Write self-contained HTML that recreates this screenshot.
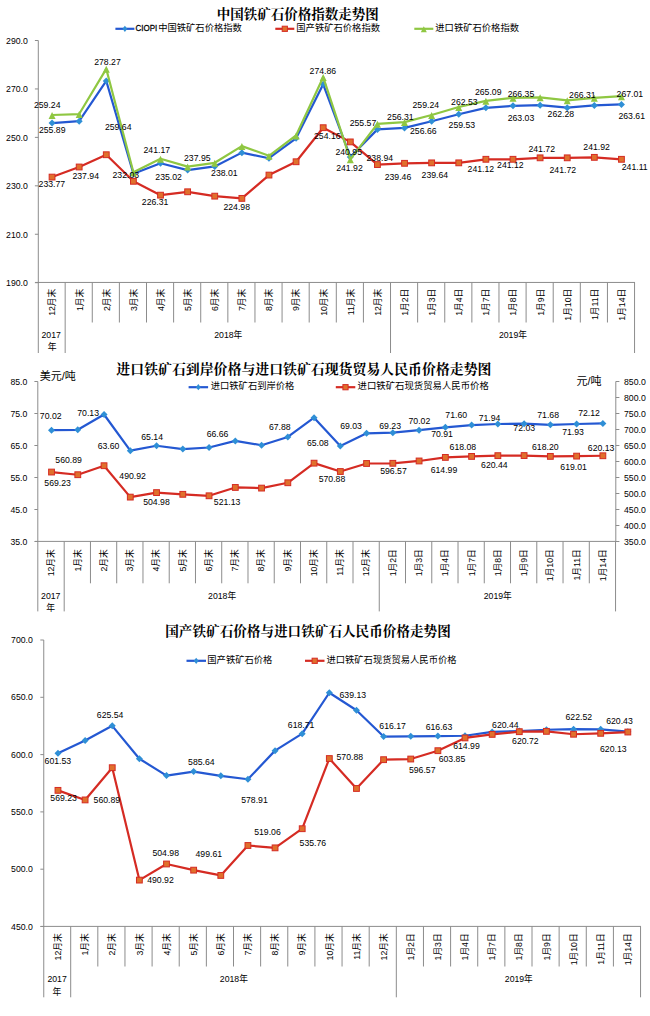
<!DOCTYPE html>
<html lang="zh"><head><meta charset="utf-8"><title>铁矿石价格指数走势图</title>
<style>html,body{margin:0;padding:0;background:#fff}svg{display:block;font-family:"Liberation Sans","Noto Sans CJK SC",sans-serif}.t{font-family:"Liberation Serif","Noto Serif CJK SC",serif;font-weight:bold}</style>
</head><body>
<svg width="650" height="1016" viewBox="0 0 650 1016">
<rect width="650" height="1016" fill="#fff"/>
<text class="t" x="297.7" y="18.6" font-size="13.5" text-anchor="middle">中国铁矿石价格指数走势图</text>
<path d="M38.3 40.5L38.3 353" stroke="#8c8c8c" stroke-width="1"/>
<path d="M34.9 282.7L38.3 282.7" stroke="#8c8c8c" stroke-width="1"/>
<text x="27.8" y="286" font-size="8.7" text-anchor="end">190.0</text>
<path d="M34.9 234.26L38.3 234.26" stroke="#8c8c8c" stroke-width="1"/>
<text x="27.8" y="238" font-size="8.7" text-anchor="end">210.0</text>
<path d="M34.9 185.82L38.3 185.82" stroke="#8c8c8c" stroke-width="1"/>
<text x="27.8" y="189" font-size="8.7" text-anchor="end">230.0</text>
<path d="M34.9 137.38L38.3 137.38" stroke="#8c8c8c" stroke-width="1"/>
<text x="27.8" y="141" font-size="8.7" text-anchor="end">250.0</text>
<path d="M34.9 88.94L38.3 88.94" stroke="#8c8c8c" stroke-width="1"/>
<text x="27.8" y="92" font-size="8.7" text-anchor="end">270.0</text>
<path d="M34.9 40.5L38.3 40.5" stroke="#8c8c8c" stroke-width="1"/>
<text x="27.8" y="44" font-size="8.7" text-anchor="end">290.0</text>
<path d="M35.1 282.45L635 282.45" stroke="#8c8c8c" stroke-width="1"/><path d="M65.16 282.45L65.16 353" stroke="#8c8c8c" stroke-width="1"/><path d="M92.28 282.45L92.28 322.5" stroke="#8c8c8c" stroke-width="1"/><path d="M119.39 282.45L119.39 322.5" stroke="#8c8c8c" stroke-width="1"/><path d="M146.5 282.45L146.5 322.5" stroke="#8c8c8c" stroke-width="1"/><path d="M173.62 282.45L173.62 322.5" stroke="#8c8c8c" stroke-width="1"/><path d="M200.73 282.45L200.73 322.5" stroke="#8c8c8c" stroke-width="1"/><path d="M227.85 282.45L227.85 322.5" stroke="#8c8c8c" stroke-width="1"/><path d="M254.96 282.45L254.96 322.5" stroke="#8c8c8c" stroke-width="1"/><path d="M282.07 282.45L282.07 322.5" stroke="#8c8c8c" stroke-width="1"/><path d="M309.19 282.45L309.19 322.5" stroke="#8c8c8c" stroke-width="1"/><path d="M336.3 282.45L336.3 322.5" stroke="#8c8c8c" stroke-width="1"/><path d="M363.41 282.45L363.41 322.5" stroke="#8c8c8c" stroke-width="1"/><path d="M390.53 282.45L390.53 353" stroke="#8c8c8c" stroke-width="1"/><path d="M417.64 282.45L417.64 322.5" stroke="#8c8c8c" stroke-width="1"/><path d="M444.75 282.45L444.75 322.5" stroke="#8c8c8c" stroke-width="1"/><path d="M471.87 282.45L471.87 322.5" stroke="#8c8c8c" stroke-width="1"/><path d="M498.98 282.45L498.98 322.5" stroke="#8c8c8c" stroke-width="1"/><path d="M526.1 282.45L526.1 322.5" stroke="#8c8c8c" stroke-width="1"/><path d="M553.21 282.45L553.21 322.5" stroke="#8c8c8c" stroke-width="1"/><path d="M580.32 282.45L580.32 322.5" stroke="#8c8c8c" stroke-width="1"/><path d="M607.44 282.45L607.44 322.5" stroke="#8c8c8c" stroke-width="1"/><path d="M634.55 282.45L634.55 353" stroke="#8c8c8c" stroke-width="1"/>
<text transform="translate(55.46 288.2) rotate(-90)" x="-0.6" y="0" font-size="8.7" text-anchor="end">12月末</text>
<text transform="translate(82.57 288.2) rotate(-90)" x="-0.6" y="0" font-size="8.7" text-anchor="end">1月末</text>
<text transform="translate(109.68 288.2) rotate(-90)" x="-0.6" y="0" font-size="8.7" text-anchor="end">2月末</text>
<text transform="translate(136.8 288.2) rotate(-90)" x="-0.6" y="0" font-size="8.7" text-anchor="end">3月末</text>
<text transform="translate(163.91 288.2) rotate(-90)" x="-0.6" y="0" font-size="8.7" text-anchor="end">4月末</text>
<text transform="translate(191.03 288.2) rotate(-90)" x="-0.6" y="0" font-size="8.7" text-anchor="end">5月末</text>
<text transform="translate(218.14 288.2) rotate(-90)" x="-0.6" y="0" font-size="8.7" text-anchor="end">6月末</text>
<text transform="translate(245.25 288.2) rotate(-90)" x="-0.6" y="0" font-size="8.7" text-anchor="end">7月末</text>
<text transform="translate(272.37 288.2) rotate(-90)" x="-0.6" y="0" font-size="8.7" text-anchor="end">8月末</text>
<text transform="translate(299.48 288.2) rotate(-90)" x="-0.6" y="0" font-size="8.7" text-anchor="end">9月末</text>
<text transform="translate(326.59 288.2) rotate(-90)" x="-0.6" y="0" font-size="8.7" text-anchor="end">10月末</text>
<text transform="translate(353.71 288.2) rotate(-90)" x="-0.6" y="0" font-size="8.7" text-anchor="end">11月末</text>
<text transform="translate(380.82 288.2) rotate(-90)" x="-0.6" y="0" font-size="8.7" text-anchor="end">12月末</text>
<text transform="translate(407.93 288.2) rotate(-90)" x="-0.6" y="0" font-size="8.7" text-anchor="end">1月2日</text>
<text transform="translate(435.05 288.2) rotate(-90)" x="-0.6" y="0" font-size="8.7" text-anchor="end">1月3日</text>
<text transform="translate(462.16 288.2) rotate(-90)" x="-0.6" y="0" font-size="8.7" text-anchor="end">1月4日</text>
<text transform="translate(489.27 288.2) rotate(-90)" x="-0.6" y="0" font-size="8.7" text-anchor="end">1月7日</text>
<text transform="translate(516.39 288.2) rotate(-90)" x="-0.6" y="0" font-size="8.7" text-anchor="end">1月8日</text>
<text transform="translate(543.5 288.2) rotate(-90)" x="-0.6" y="0" font-size="8.7" text-anchor="end">1月9日</text>
<text transform="translate(570.62 288.2) rotate(-90)" x="-0.6" y="0" font-size="8.7" text-anchor="end">1月10日</text>
<text transform="translate(597.73 288.2) rotate(-90)" x="-0.6" y="0" font-size="8.7" text-anchor="end">1月11日</text>
<text transform="translate(624.84 288.2) rotate(-90)" x="-0.6" y="0" font-size="8.7" text-anchor="end">1月14日</text>
<text x="51.16" y="337.6" font-size="8.7" text-anchor="middle">2017</text>
<text x="52.06" y="349.7" font-size="8.8" text-anchor="middle">年</text>
<text x="214.22" y="337.6" font-size="8.7">2018年</text>
<text x="498.91" y="337.6" font-size="8.7">2019年</text>
<polyline points="52.06,123.11 79.17,121.15 106.28,80.95 133.4,173.66 160.51,163.3 187.62,170.08 214.74,166.42 241.85,152.64 268.97,158.21 296.08,138.35 323.19,84.34 350.31,156.95 377.42,129.39 404.53,127.93 431.65,121.25 458.76,114.3 485.88,107.83 512.99,105.82 540.1,105.17 567.22,107.64 594.33,105.41 621.44,104.42" fill="none" stroke="#2458d2" stroke-width="2.2" stroke-linejoin="round" stroke-linecap="round"/><path d="M52.06 119.61l3.5 3.5l-3.5 3.5l-3.5 -3.5z" fill="#2f8fd6"/><path d="M79.17 117.65l3.5 3.5l-3.5 3.5l-3.5 -3.5z" fill="#2f8fd6"/><path d="M106.28 77.45l3.5 3.5l-3.5 3.5l-3.5 -3.5z" fill="#2f8fd6"/><path d="M133.4 170.16l3.5 3.5l-3.5 3.5l-3.5 -3.5z" fill="#2f8fd6"/><path d="M160.51 159.8l3.5 3.5l-3.5 3.5l-3.5 -3.5z" fill="#2f8fd6"/><path d="M187.62 166.58l3.5 3.5l-3.5 3.5l-3.5 -3.5z" fill="#2f8fd6"/><path d="M214.74 162.92l3.5 3.5l-3.5 3.5l-3.5 -3.5z" fill="#2f8fd6"/><path d="M241.85 149.14l3.5 3.5l-3.5 3.5l-3.5 -3.5z" fill="#2f8fd6"/><path d="M268.97 154.71l3.5 3.5l-3.5 3.5l-3.5 -3.5z" fill="#2f8fd6"/><path d="M296.08 134.85l3.5 3.5l-3.5 3.5l-3.5 -3.5z" fill="#2f8fd6"/><path d="M323.19 80.84l3.5 3.5l-3.5 3.5l-3.5 -3.5z" fill="#2f8fd6"/><path d="M350.31 153.45l3.5 3.5l-3.5 3.5l-3.5 -3.5z" fill="#2f8fd6"/><path d="M377.42 125.89l3.5 3.5l-3.5 3.5l-3.5 -3.5z" fill="#2f8fd6"/><path d="M404.53 124.43l3.5 3.5l-3.5 3.5l-3.5 -3.5z" fill="#2f8fd6"/><path d="M431.65 117.75l3.5 3.5l-3.5 3.5l-3.5 -3.5z" fill="#2f8fd6"/><path d="M458.76 110.8l3.5 3.5l-3.5 3.5l-3.5 -3.5z" fill="#2f8fd6"/><path d="M485.88 104.33l3.5 3.5l-3.5 3.5l-3.5 -3.5z" fill="#2f8fd6"/><path d="M512.99 102.32l3.5 3.5l-3.5 3.5l-3.5 -3.5z" fill="#2f8fd6"/><path d="M540.1 101.67l3.5 3.5l-3.5 3.5l-3.5 -3.5z" fill="#2f8fd6"/><path d="M567.22 104.14l3.5 3.5l-3.5 3.5l-3.5 -3.5z" fill="#2f8fd6"/><path d="M594.33 101.91l3.5 3.5l-3.5 3.5l-3.5 -3.5z" fill="#2f8fd6"/><path d="M621.44 100.92l3.5 3.5l-3.5 3.5l-3.5 -3.5z" fill="#2f8fd6"/>
<polyline points="52.06,177.09 79.17,166.99 106.28,154.73 133.4,181.3 160.51,195.16 187.62,191.79 214.74,196.15 241.85,198.38 268.97,175.08 296.08,161.76 323.19,127.7 350.31,141.9 377.42,164.57 404.53,163.31 431.65,162.87 458.76,162.85 485.88,159.29 512.99,159.29 540.1,157.83 567.22,157.83 594.33,157.35 621.44,159.31" fill="none" stroke="#d52b23" stroke-width="2.2" stroke-linejoin="round" stroke-linecap="round"/><rect x="49.16" y="174.19" width="5.8" height="5.8" fill="#e0702c" stroke="#d52b23" stroke-width="1"/><rect x="76.27" y="164.09" width="5.8" height="5.8" fill="#e0702c" stroke="#d52b23" stroke-width="1"/><rect x="103.38" y="151.83" width="5.8" height="5.8" fill="#e0702c" stroke="#d52b23" stroke-width="1"/><rect x="130.5" y="178.4" width="5.8" height="5.8" fill="#e0702c" stroke="#d52b23" stroke-width="1"/><rect x="157.61" y="192.26" width="5.8" height="5.8" fill="#e0702c" stroke="#d52b23" stroke-width="1"/><rect x="184.72" y="188.89" width="5.8" height="5.8" fill="#e0702c" stroke="#d52b23" stroke-width="1"/><rect x="211.84" y="193.25" width="5.8" height="5.8" fill="#e0702c" stroke="#d52b23" stroke-width="1"/><rect x="238.95" y="195.48" width="5.8" height="5.8" fill="#e0702c" stroke="#d52b23" stroke-width="1"/><rect x="266.07" y="172.18" width="5.8" height="5.8" fill="#e0702c" stroke="#d52b23" stroke-width="1"/><rect x="293.18" y="158.86" width="5.8" height="5.8" fill="#e0702c" stroke="#d52b23" stroke-width="1"/><rect x="320.29" y="124.8" width="5.8" height="5.8" fill="#e0702c" stroke="#d52b23" stroke-width="1"/><rect x="347.41" y="139" width="5.8" height="5.8" fill="#e0702c" stroke="#d52b23" stroke-width="1"/><rect x="374.52" y="161.67" width="5.8" height="5.8" fill="#e0702c" stroke="#d52b23" stroke-width="1"/><rect x="401.63" y="160.41" width="5.8" height="5.8" fill="#e0702c" stroke="#d52b23" stroke-width="1"/><rect x="428.75" y="159.97" width="5.8" height="5.8" fill="#e0702c" stroke="#d52b23" stroke-width="1"/><rect x="455.86" y="159.95" width="5.8" height="5.8" fill="#e0702c" stroke="#d52b23" stroke-width="1"/><rect x="482.98" y="156.39" width="5.8" height="5.8" fill="#e0702c" stroke="#d52b23" stroke-width="1"/><rect x="510.09" y="156.39" width="5.8" height="5.8" fill="#e0702c" stroke="#d52b23" stroke-width="1"/><rect x="537.2" y="154.93" width="5.8" height="5.8" fill="#e0702c" stroke="#d52b23" stroke-width="1"/><rect x="564.32" y="154.93" width="5.8" height="5.8" fill="#e0702c" stroke="#d52b23" stroke-width="1"/><rect x="591.43" y="154.45" width="5.8" height="5.8" fill="#e0702c" stroke="#d52b23" stroke-width="1"/><rect x="618.54" y="156.41" width="5.8" height="5.8" fill="#e0702c" stroke="#d52b23" stroke-width="1"/>
<polyline points="52.06,115 79.17,114.03 106.28,68.91 133.4,172.26 160.51,158.77 187.62,166.57 214.74,162.81 241.85,146.1 268.97,155.79 296.08,135.44 323.19,77.17 350.31,159.3 377.42,123.89 404.53,122.1 431.65,115 458.76,107.03 485.88,100.83 512.99,97.78 540.1,97.42 567.22,100.32 594.33,97.88 621.44,96.18" fill="none" stroke="#8fc742" stroke-width="2.2" stroke-linejoin="round" stroke-linecap="round"/><path d="M52.06 111.95l3.5 7h-7z" fill="#8fc742"/><path d="M79.17 110.98l3.5 7h-7z" fill="#8fc742"/><path d="M106.28 65.86l3.5 7h-7z" fill="#8fc742"/><path d="M133.4 169.21l3.5 7h-7z" fill="#8fc742"/><path d="M160.51 155.72l3.5 7h-7z" fill="#8fc742"/><path d="M187.62 163.52l3.5 7h-7z" fill="#8fc742"/><path d="M214.74 159.76l3.5 7h-7z" fill="#8fc742"/><path d="M241.85 143.05l3.5 7h-7z" fill="#8fc742"/><path d="M268.97 152.74l3.5 7h-7z" fill="#8fc742"/><path d="M296.08 132.39l3.5 7h-7z" fill="#8fc742"/><path d="M323.19 74.12l3.5 7h-7z" fill="#8fc742"/><path d="M350.31 156.25l3.5 7h-7z" fill="#8fc742"/><path d="M377.42 120.84l3.5 7h-7z" fill="#8fc742"/><path d="M404.53 119.05l3.5 7h-7z" fill="#8fc742"/><path d="M431.65 111.95l3.5 7h-7z" fill="#8fc742"/><path d="M458.76 103.98l3.5 7h-7z" fill="#8fc742"/><path d="M485.88 97.78l3.5 7h-7z" fill="#8fc742"/><path d="M512.99 94.73l3.5 7h-7z" fill="#8fc742"/><path d="M540.1 94.37l3.5 7h-7z" fill="#8fc742"/><path d="M567.22 97.27l3.5 7h-7z" fill="#8fc742"/><path d="M594.33 94.83l3.5 7h-7z" fill="#8fc742"/><path d="M621.44 93.13l3.5 7h-7z" fill="#8fc742"/>
<text x="47.2" y="108.2" font-size="8.7" text-anchor="middle">259.24</text>
<text x="52.2" y="132.8" font-size="8.7" text-anchor="middle">255.89</text>
<text x="107.5" y="64.9" font-size="8.7" text-anchor="middle">278.27</text>
<text x="118.2" y="130.3" font-size="8.7" text-anchor="middle">259.64</text>
<text x="156.8" y="152.7" font-size="8.7" text-anchor="middle">241.17</text>
<text x="85.7" y="179.1" font-size="8.7" text-anchor="middle">237.94</text>
<text x="51.9" y="187.4" font-size="8.7" text-anchor="middle">233.77</text>
<text x="125.8" y="178.1" font-size="8.7" text-anchor="middle">232.03</text>
<text x="168.6" y="179.8" font-size="8.7" text-anchor="middle">235.02</text>
<text x="155.1" y="204.9" font-size="8.7" text-anchor="middle">226.31</text>
<text x="197.3" y="161.1" font-size="8.7" text-anchor="middle">237.95</text>
<text x="224.4" y="176.1" font-size="8.7" text-anchor="middle">238.01</text>
<text x="236.7" y="210.1" font-size="8.7" text-anchor="middle">224.98</text>
<text x="322.9" y="73.8" font-size="8.7" text-anchor="middle">274.86</text>
<text x="327.3" y="139.1" font-size="8.7" text-anchor="middle">254.16</text>
<text x="348.7" y="155.1" font-size="8.7" text-anchor="middle">240.95</text>
<text x="349.5" y="171.1" font-size="8.7" text-anchor="middle">241.92</text>
<text x="363" y="126" font-size="8.7" text-anchor="middle">255.57</text>
<text x="379.8" y="160.7" font-size="8.7" text-anchor="middle">238.94</text>
<text x="400.4" y="120.1" font-size="8.7" text-anchor="middle">256.31</text>
<text x="423.3" y="133.6" font-size="8.7" text-anchor="middle">256.66</text>
<text x="425.8" y="107.5" font-size="8.7" text-anchor="middle">259.24</text>
<text x="398" y="179.7" font-size="8.7" text-anchor="middle">239.46</text>
<text x="434.9" y="178.4" font-size="8.7" text-anchor="middle">239.64</text>
<text x="464.4" y="105.2" font-size="8.7" text-anchor="middle">262.53</text>
<text x="461.9" y="128.1" font-size="8.7" text-anchor="middle">259.53</text>
<text x="488.2" y="94.9" font-size="8.7" text-anchor="middle">265.09</text>
<text x="521" y="96.6" font-size="8.7" text-anchor="middle">266.35</text>
<text x="521" y="121.2" font-size="8.7" text-anchor="middle">263.03</text>
<text x="560.9" y="116.7" font-size="8.7" text-anchor="middle">262.28</text>
<text x="582.4" y="98" font-size="8.7" text-anchor="middle">266.31</text>
<text x="541.7" y="151.8" font-size="8.7" text-anchor="middle">241.72</text>
<text x="480.9" y="171.7" font-size="8.7" text-anchor="middle">241.12</text>
<text x="510.4" y="168.3" font-size="8.7" text-anchor="middle">241.12</text>
<text x="562.8" y="173.1" font-size="8.7" text-anchor="middle">241.72</text>
<text x="596.6" y="150.1" font-size="8.7" text-anchor="middle">241.92</text>
<text x="629.9" y="96.7" font-size="8.7" text-anchor="middle">267.01</text>
<text x="631.7" y="118.8" font-size="8.7" text-anchor="middle">263.61</text>
<text x="634.7" y="169.6" font-size="8.7" text-anchor="middle">241.11</text>
<path d="M115.4 28.8L134.4 28.8" stroke="#2458d2" stroke-width="2.2"/>
<path d="M124.9 25.7l2.4 3.1l-2.4 3.1l-2.4 -3.1z" fill="#2f8fd6"/>
<g transform="translate(135.5 30.7)"><text transform="translate(0 0) scale(0.92 1)" font-size="8.7" stroke="#000" stroke-width=".25">CIOPI</text><text x="22.65" y="0.4" font-size="9.3">中国铁矿石价格指数</text></g>
<path d="M275.3 28.8L294.3 28.8" stroke="#d52b23" stroke-width="2.2"/>
<rect x="282.2" y="26.2" width="5.2" height="5.2" fill="#e0702c" stroke="#d52b23" stroke-width="1"/>
<text x="296.3" y="31.1" font-size="9.3">国产铁矿石价格指数</text>
<path d="M414.3 28.8L433.3 28.8" stroke="#8fc742" stroke-width="2.2"/>
<path d="M423.8 26.25l3 6h-6z" fill="#8fc742"/>
<text x="435.3" y="31.1" font-size="9.3">进口铁矿石价格指数</text>
<text class="t" x="303.9" y="373.7" font-size="13.9" text-anchor="middle">进口铁矿石到岸价格与进口铁矿石现货贸易人民币价格走势图</text>
<path d="M37.8 381.5L37.8 611.4" stroke="#8c8c8c" stroke-width="1"/>
<path d="M34.4 541.5L37.8 541.5" stroke="#8c8c8c" stroke-width="1"/>
<text x="27.3" y="545" font-size="8.7" text-anchor="end">35.0</text>
<path d="M34.4 509.5L37.8 509.5" stroke="#8c8c8c" stroke-width="1"/>
<text x="27.3" y="513" font-size="8.7" text-anchor="end">45.0</text>
<path d="M34.4 477.5L37.8 477.5" stroke="#8c8c8c" stroke-width="1"/>
<text x="27.3" y="481" font-size="8.7" text-anchor="end">55.0</text>
<path d="M34.4 445.5L37.8 445.5" stroke="#8c8c8c" stroke-width="1"/>
<text x="27.3" y="449" font-size="8.7" text-anchor="end">65.0</text>
<path d="M34.4 413.5L37.8 413.5" stroke="#8c8c8c" stroke-width="1"/>
<text x="27.3" y="417" font-size="8.7" text-anchor="end">75.0</text>
<path d="M34.4 381.5L37.8 381.5" stroke="#8c8c8c" stroke-width="1"/>
<text x="27.3" y="385" font-size="8.7" text-anchor="end">85.0</text>
<path d="M615.8 381.5L615.8 541.4" stroke="#8c8c8c" stroke-width="1"/>
<path d="M615.8 541.5L619.4 541.5" stroke="#8c8c8c" stroke-width="1"/>
<text x="624" y="545" font-size="8.7">350.0</text>
<path d="M615.8 525.5L619.4 525.5" stroke="#8c8c8c" stroke-width="1"/>
<text x="624" y="529" font-size="8.7">400.0</text>
<path d="M615.8 509.5L619.4 509.5" stroke="#8c8c8c" stroke-width="1"/>
<text x="624" y="513" font-size="8.7">450.0</text>
<path d="M615.8 493.5L619.4 493.5" stroke="#8c8c8c" stroke-width="1"/>
<text x="624" y="497" font-size="8.7">500.0</text>
<path d="M615.8 477.5L619.4 477.5" stroke="#8c8c8c" stroke-width="1"/>
<text x="624" y="481" font-size="8.7">550.0</text>
<path d="M615.8 461.5L619.4 461.5" stroke="#8c8c8c" stroke-width="1"/>
<text x="624" y="465" font-size="8.7">600.0</text>
<path d="M615.8 445.5L619.4 445.5" stroke="#8c8c8c" stroke-width="1"/>
<text x="624" y="449" font-size="8.7">650.0</text>
<path d="M615.8 429.5L619.4 429.5" stroke="#8c8c8c" stroke-width="1"/>
<text x="624" y="433" font-size="8.7">700.0</text>
<path d="M615.8 413.5L619.4 413.5" stroke="#8c8c8c" stroke-width="1"/>
<text x="624" y="417" font-size="8.7">750.0</text>
<path d="M615.8 397.5L619.4 397.5" stroke="#8c8c8c" stroke-width="1"/>
<text x="624" y="401" font-size="8.7">800.0</text>
<path d="M615.8 381.5L619.4 381.5" stroke="#8c8c8c" stroke-width="1"/>
<text x="624" y="385" font-size="8.7">850.0</text>
<path d="M35 541.4L616 541.4" stroke="#8c8c8c" stroke-width="1"/><path d="M64.2 541.4L64.2 611.4" stroke="#8c8c8c" stroke-width="1"/><path d="M90.46 541.4L90.46 583.3" stroke="#8c8c8c" stroke-width="1"/><path d="M116.71 541.4L116.71 583.3" stroke="#8c8c8c" stroke-width="1"/><path d="M142.97 541.4L142.97 583.3" stroke="#8c8c8c" stroke-width="1"/><path d="M169.22 541.4L169.22 583.3" stroke="#8c8c8c" stroke-width="1"/><path d="M195.48 541.4L195.48 583.3" stroke="#8c8c8c" stroke-width="1"/><path d="M221.73 541.4L221.73 583.3" stroke="#8c8c8c" stroke-width="1"/><path d="M247.99 541.4L247.99 583.3" stroke="#8c8c8c" stroke-width="1"/><path d="M274.24 541.4L274.24 583.3" stroke="#8c8c8c" stroke-width="1"/><path d="M300.5 541.4L300.5 583.3" stroke="#8c8c8c" stroke-width="1"/><path d="M326.75 541.4L326.75 583.3" stroke="#8c8c8c" stroke-width="1"/><path d="M353 541.4L353 583.3" stroke="#8c8c8c" stroke-width="1"/><path d="M379.26 541.4L379.26 611.4" stroke="#8c8c8c" stroke-width="1"/><path d="M405.51 541.4L405.51 583.3" stroke="#8c8c8c" stroke-width="1"/><path d="M431.77 541.4L431.77 583.3" stroke="#8c8c8c" stroke-width="1"/><path d="M458.02 541.4L458.02 583.3" stroke="#8c8c8c" stroke-width="1"/><path d="M484.28 541.4L484.28 583.3" stroke="#8c8c8c" stroke-width="1"/><path d="M510.53 541.4L510.53 583.3" stroke="#8c8c8c" stroke-width="1"/><path d="M536.79 541.4L536.79 583.3" stroke="#8c8c8c" stroke-width="1"/><path d="M563.04 541.4L563.04 583.3" stroke="#8c8c8c" stroke-width="1"/><path d="M589.3 541.4L589.3 583.3" stroke="#8c8c8c" stroke-width="1"/><path d="M615.55 541.4L615.55 611.4" stroke="#8c8c8c" stroke-width="1"/>
<text transform="translate(54.43 548.7) rotate(-90)" x="-0.6" y="0" font-size="8.7" text-anchor="end">12月末</text>
<text transform="translate(80.68 548.7) rotate(-90)" x="-0.6" y="0" font-size="8.7" text-anchor="end">1月末</text>
<text transform="translate(106.94 548.7) rotate(-90)" x="-0.6" y="0" font-size="8.7" text-anchor="end">2月末</text>
<text transform="translate(133.19 548.7) rotate(-90)" x="-0.6" y="0" font-size="8.7" text-anchor="end">3月末</text>
<text transform="translate(159.45 548.7) rotate(-90)" x="-0.6" y="0" font-size="8.7" text-anchor="end">4月末</text>
<text transform="translate(185.7 548.7) rotate(-90)" x="-0.6" y="0" font-size="8.7" text-anchor="end">5月末</text>
<text transform="translate(211.95 548.7) rotate(-90)" x="-0.6" y="0" font-size="8.7" text-anchor="end">6月末</text>
<text transform="translate(238.21 548.7) rotate(-90)" x="-0.6" y="0" font-size="8.7" text-anchor="end">7月末</text>
<text transform="translate(264.46 548.7) rotate(-90)" x="-0.6" y="0" font-size="8.7" text-anchor="end">8月末</text>
<text transform="translate(290.72 548.7) rotate(-90)" x="-0.6" y="0" font-size="8.7" text-anchor="end">9月末</text>
<text transform="translate(316.97 548.7) rotate(-90)" x="-0.6" y="0" font-size="8.7" text-anchor="end">10月末</text>
<text transform="translate(343.23 548.7) rotate(-90)" x="-0.6" y="0" font-size="8.7" text-anchor="end">11月末</text>
<text transform="translate(369.48 548.7) rotate(-90)" x="-0.6" y="0" font-size="8.7" text-anchor="end">12月末</text>
<text transform="translate(395.74 548.7) rotate(-90)" x="-0.6" y="0" font-size="8.7" text-anchor="end">1月2日</text>
<text transform="translate(421.99 548.7) rotate(-90)" x="-0.6" y="0" font-size="8.7" text-anchor="end">1月3日</text>
<text transform="translate(448.25 548.7) rotate(-90)" x="-0.6" y="0" font-size="8.7" text-anchor="end">1月4日</text>
<text transform="translate(474.5 548.7) rotate(-90)" x="-0.6" y="0" font-size="8.7" text-anchor="end">1月7日</text>
<text transform="translate(500.75 548.7) rotate(-90)" x="-0.6" y="0" font-size="8.7" text-anchor="end">1月8日</text>
<text transform="translate(527.01 548.7) rotate(-90)" x="-0.6" y="0" font-size="8.7" text-anchor="end">1月9日</text>
<text transform="translate(553.26 548.7) rotate(-90)" x="-0.6" y="0" font-size="8.7" text-anchor="end">1月10日</text>
<text transform="translate(579.52 548.7) rotate(-90)" x="-0.6" y="0" font-size="8.7" text-anchor="end">1月11日</text>
<text transform="translate(605.77 548.7) rotate(-90)" x="-0.6" y="0" font-size="8.7" text-anchor="end">1月14日</text>
<text x="50.73" y="599.3" font-size="8.7" text-anchor="middle">2017</text>
<text x="50.73" y="610.6" font-size="8.8" text-anchor="middle">年</text>
<text x="208.1" y="599.3" font-size="8.7">2018年</text>
<text x="483.77" y="599.3" font-size="8.7">2019年</text>
<text x="39.7" y="380" font-size="11">美元/吨</text>
<text x="576.5" y="384.7" font-size="11">元/吨</text>
<polyline points="51.53,430.14 77.78,429.78 104.04,414.52 130.29,450.68 156.55,445.75 182.8,449.08 209.05,447.48 235.31,440.89 261.56,445.24 287.82,436.98 314.07,417.72 340.33,445.94 366.58,433.3 392.84,432.66 419.09,430.14 445.35,427.29 471.6,425.08 497.85,423.99 524.11,423.7 550.36,424.82 576.62,424.02 602.87,423.42" fill="none" stroke="#2458d2" stroke-width="2.2" stroke-linejoin="round" stroke-linecap="round"/><path d="M51.53 426.64l3.5 3.5l-3.5 3.5l-3.5 -3.5z" fill="#2f8fd6"/><path d="M77.78 426.28l3.5 3.5l-3.5 3.5l-3.5 -3.5z" fill="#2f8fd6"/><path d="M104.04 411.02l3.5 3.5l-3.5 3.5l-3.5 -3.5z" fill="#2f8fd6"/><path d="M130.29 447.18l3.5 3.5l-3.5 3.5l-3.5 -3.5z" fill="#2f8fd6"/><path d="M156.55 442.25l3.5 3.5l-3.5 3.5l-3.5 -3.5z" fill="#2f8fd6"/><path d="M182.8 445.58l3.5 3.5l-3.5 3.5l-3.5 -3.5z" fill="#2f8fd6"/><path d="M209.05 443.98l3.5 3.5l-3.5 3.5l-3.5 -3.5z" fill="#2f8fd6"/><path d="M235.31 437.39l3.5 3.5l-3.5 3.5l-3.5 -3.5z" fill="#2f8fd6"/><path d="M261.56 441.74l3.5 3.5l-3.5 3.5l-3.5 -3.5z" fill="#2f8fd6"/><path d="M287.82 433.48l3.5 3.5l-3.5 3.5l-3.5 -3.5z" fill="#2f8fd6"/><path d="M314.07 414.22l3.5 3.5l-3.5 3.5l-3.5 -3.5z" fill="#2f8fd6"/><path d="M340.33 442.44l3.5 3.5l-3.5 3.5l-3.5 -3.5z" fill="#2f8fd6"/><path d="M366.58 429.8l3.5 3.5l-3.5 3.5l-3.5 -3.5z" fill="#2f8fd6"/><path d="M392.84 429.16l3.5 3.5l-3.5 3.5l-3.5 -3.5z" fill="#2f8fd6"/><path d="M419.09 426.64l3.5 3.5l-3.5 3.5l-3.5 -3.5z" fill="#2f8fd6"/><path d="M445.35 423.79l3.5 3.5l-3.5 3.5l-3.5 -3.5z" fill="#2f8fd6"/><path d="M471.6 421.58l3.5 3.5l-3.5 3.5l-3.5 -3.5z" fill="#2f8fd6"/><path d="M497.85 420.49l3.5 3.5l-3.5 3.5l-3.5 -3.5z" fill="#2f8fd6"/><path d="M524.11 420.2l3.5 3.5l-3.5 3.5l-3.5 -3.5z" fill="#2f8fd6"/><path d="M550.36 421.32l3.5 3.5l-3.5 3.5l-3.5 -3.5z" fill="#2f8fd6"/><path d="M576.62 420.52l3.5 3.5l-3.5 3.5l-3.5 -3.5z" fill="#2f8fd6"/><path d="M602.87 419.92l3.5 3.5l-3.5 3.5l-3.5 -3.5z" fill="#2f8fd6"/>
<polyline points="51.53,472.05 77.78,474.72 104.04,465.72 130.29,497.11 156.55,492.61 182.8,494.32 209.05,495.8 235.31,487.44 261.56,488.1 287.82,482.76 314.07,463.16 340.33,471.52 366.58,463.48 392.84,463.3 419.09,460.97 445.35,457.4 471.6,456.41 497.85,455.66 524.11,455.57 550.36,456.38 576.62,456.12 602.87,455.76" fill="none" stroke="#d52b23" stroke-width="2.2" stroke-linejoin="round" stroke-linecap="round"/><rect x="48.63" y="469.15" width="5.8" height="5.8" fill="#e0702c" stroke="#d52b23" stroke-width="1"/><rect x="74.88" y="471.82" width="5.8" height="5.8" fill="#e0702c" stroke="#d52b23" stroke-width="1"/><rect x="101.14" y="462.82" width="5.8" height="5.8" fill="#e0702c" stroke="#d52b23" stroke-width="1"/><rect x="127.39" y="494.21" width="5.8" height="5.8" fill="#e0702c" stroke="#d52b23" stroke-width="1"/><rect x="153.65" y="489.71" width="5.8" height="5.8" fill="#e0702c" stroke="#d52b23" stroke-width="1"/><rect x="179.9" y="491.42" width="5.8" height="5.8" fill="#e0702c" stroke="#d52b23" stroke-width="1"/><rect x="206.15" y="492.9" width="5.8" height="5.8" fill="#e0702c" stroke="#d52b23" stroke-width="1"/><rect x="232.41" y="484.54" width="5.8" height="5.8" fill="#e0702c" stroke="#d52b23" stroke-width="1"/><rect x="258.66" y="485.2" width="5.8" height="5.8" fill="#e0702c" stroke="#d52b23" stroke-width="1"/><rect x="284.92" y="479.86" width="5.8" height="5.8" fill="#e0702c" stroke="#d52b23" stroke-width="1"/><rect x="311.17" y="460.26" width="5.8" height="5.8" fill="#e0702c" stroke="#d52b23" stroke-width="1"/><rect x="337.43" y="468.62" width="5.8" height="5.8" fill="#e0702c" stroke="#d52b23" stroke-width="1"/><rect x="363.68" y="460.58" width="5.8" height="5.8" fill="#e0702c" stroke="#d52b23" stroke-width="1"/><rect x="389.94" y="460.4" width="5.8" height="5.8" fill="#e0702c" stroke="#d52b23" stroke-width="1"/><rect x="416.19" y="458.07" width="5.8" height="5.8" fill="#e0702c" stroke="#d52b23" stroke-width="1"/><rect x="442.45" y="454.5" width="5.8" height="5.8" fill="#e0702c" stroke="#d52b23" stroke-width="1"/><rect x="468.7" y="453.51" width="5.8" height="5.8" fill="#e0702c" stroke="#d52b23" stroke-width="1"/><rect x="494.95" y="452.76" width="5.8" height="5.8" fill="#e0702c" stroke="#d52b23" stroke-width="1"/><rect x="521.21" y="452.67" width="5.8" height="5.8" fill="#e0702c" stroke="#d52b23" stroke-width="1"/><rect x="547.46" y="453.48" width="5.8" height="5.8" fill="#e0702c" stroke="#d52b23" stroke-width="1"/><rect x="573.72" y="453.22" width="5.8" height="5.8" fill="#e0702c" stroke="#d52b23" stroke-width="1"/><rect x="599.97" y="452.86" width="5.8" height="5.8" fill="#e0702c" stroke="#d52b23" stroke-width="1"/>
<text x="50.7" y="418.8" font-size="8.7" text-anchor="middle">70.02</text>
<text x="88.1" y="415.6" font-size="8.7" text-anchor="middle">70.13</text>
<text x="108.5" y="448.9" font-size="8.7" text-anchor="middle">63.60</text>
<text x="152.1" y="439.7" font-size="8.7" text-anchor="middle">65.14</text>
<text x="68.6" y="463.1" font-size="8.7" text-anchor="middle">560.89</text>
<text x="57.6" y="485.8" font-size="8.7" text-anchor="middle">569.23</text>
<text x="132.6" y="479.1" font-size="8.7" text-anchor="middle">490.92</text>
<text x="156.5" y="505" font-size="8.7" text-anchor="middle">504.98</text>
<text x="217.5" y="436.8" font-size="8.7" text-anchor="middle">66.66</text>
<text x="279.8" y="430.4" font-size="8.7" text-anchor="middle">67.88</text>
<text x="317.8" y="445.9" font-size="8.7" text-anchor="middle">65.08</text>
<text x="227.1" y="505" font-size="8.7" text-anchor="middle">521.13</text>
<text x="332" y="482.3" font-size="8.7" text-anchor="middle">570.88</text>
<text x="351" y="429.4" font-size="8.7" text-anchor="middle">69.03</text>
<text x="390.1" y="429.2" font-size="8.7" text-anchor="middle">69.23</text>
<text x="419.4" y="423.7" font-size="8.7" text-anchor="middle">70.02</text>
<text x="442" y="437.3" font-size="8.7" text-anchor="middle">70.91</text>
<text x="456.2" y="417.6" font-size="8.7" text-anchor="middle">71.60</text>
<text x="393.5" y="473.7" font-size="8.7" text-anchor="middle">596.57</text>
<text x="444" y="473" font-size="8.7" text-anchor="middle">614.99</text>
<text x="462.9" y="449.6" font-size="8.7" text-anchor="middle">618.08</text>
<text x="489.5" y="421.3" font-size="8.7" text-anchor="middle">71.94</text>
<text x="524.2" y="431.1" font-size="8.7" text-anchor="middle">72.03</text>
<text x="548.1" y="417.9" font-size="8.7" text-anchor="middle">71.68</text>
<text x="573" y="435.3" font-size="8.7" text-anchor="middle">71.93</text>
<text x="589" y="416.2" font-size="8.7" text-anchor="middle">72.12</text>
<text x="494.4" y="468.1" font-size="8.7" text-anchor="middle">620.44</text>
<text x="545.3" y="449.6" font-size="8.7" text-anchor="middle">618.20</text>
<text x="573.6" y="469.6" font-size="8.7" text-anchor="middle">619.01</text>
<text x="601.1" y="451.3" font-size="8.7" text-anchor="middle">620.13</text>
<path d="M188.6 387.2L208.1 387.2" stroke="#2458d2" stroke-width="2.2"/>
<path d="M198.3 384.1l2.4 3.1l-2.4 3.1l-2.4 -3.1z" fill="#2f8fd6"/>
<text x="210.7" y="388.8" font-size="9.3">进口铁矿石到岸价格</text>
<path d="M335.8 387.2L355.3 387.2" stroke="#d52b23" stroke-width="2.2"/>
<rect x="342.9" y="384.6" width="5.2" height="5.2" fill="#e0702c" stroke="#d52b23" stroke-width="1"/>
<text x="357.6" y="388.8" font-size="9.4">进口铁矿石现货贸易人民币价格</text>
<text class="t" x="308" y="635.5" font-size="13.6" text-anchor="middle">国产铁矿石价格与进口铁矿石人民币价格走势图</text>
<path d="M43.75 640L43.75 997.3" stroke="#8c8c8c" stroke-width="1"/>
<path d="M40.35 926.5L43.75 926.5" stroke="#8c8c8c" stroke-width="1"/>
<text x="32.8" y="930" font-size="8.7" text-anchor="end">450.0</text>
<path d="M40.35 869.2L43.75 869.2" stroke="#8c8c8c" stroke-width="1"/>
<text x="32.8" y="872" font-size="8.7" text-anchor="end">500.0</text>
<path d="M40.35 811.9L43.75 811.9" stroke="#8c8c8c" stroke-width="1"/>
<text x="32.8" y="815" font-size="8.7" text-anchor="end">550.0</text>
<path d="M40.35 754.6L43.75 754.6" stroke="#8c8c8c" stroke-width="1"/>
<text x="32.8" y="758" font-size="8.7" text-anchor="end">600.0</text>
<path d="M40.35 697.3L43.75 697.3" stroke="#8c8c8c" stroke-width="1"/>
<text x="32.8" y="700" font-size="8.7" text-anchor="end">650.0</text>
<path d="M40.35 640L43.75 640" stroke="#8c8c8c" stroke-width="1"/>
<text x="32.8" y="643" font-size="8.7" text-anchor="end">700.0</text>
<path d="M40.6 926.4L641 926.4" stroke="#8c8c8c" stroke-width="1"/><path d="M70.69 926.4L70.69 997.3" stroke="#8c8c8c" stroke-width="1"/><path d="M97.82 926.4L97.82 966.5" stroke="#8c8c8c" stroke-width="1"/><path d="M124.96 926.4L124.96 966.5" stroke="#8c8c8c" stroke-width="1"/><path d="M152.1 926.4L152.1 966.5" stroke="#8c8c8c" stroke-width="1"/><path d="M179.23 926.4L179.23 966.5" stroke="#8c8c8c" stroke-width="1"/><path d="M206.37 926.4L206.37 966.5" stroke="#8c8c8c" stroke-width="1"/><path d="M233.5 926.4L233.5 966.5" stroke="#8c8c8c" stroke-width="1"/><path d="M260.64 926.4L260.64 966.5" stroke="#8c8c8c" stroke-width="1"/><path d="M287.78 926.4L287.78 966.5" stroke="#8c8c8c" stroke-width="1"/><path d="M314.91 926.4L314.91 966.5" stroke="#8c8c8c" stroke-width="1"/><path d="M342.05 926.4L342.05 966.5" stroke="#8c8c8c" stroke-width="1"/><path d="M369.19 926.4L369.19 966.5" stroke="#8c8c8c" stroke-width="1"/><path d="M396.32 926.4L396.32 997.3" stroke="#8c8c8c" stroke-width="1"/><path d="M423.46 926.4L423.46 966.5" stroke="#8c8c8c" stroke-width="1"/><path d="M450.6 926.4L450.6 966.5" stroke="#8c8c8c" stroke-width="1"/><path d="M477.73 926.4L477.73 966.5" stroke="#8c8c8c" stroke-width="1"/><path d="M504.87 926.4L504.87 966.5" stroke="#8c8c8c" stroke-width="1"/><path d="M532 926.4L532 966.5" stroke="#8c8c8c" stroke-width="1"/><path d="M559.14 926.4L559.14 966.5" stroke="#8c8c8c" stroke-width="1"/><path d="M586.28 926.4L586.28 966.5" stroke="#8c8c8c" stroke-width="1"/><path d="M613.41 926.4L613.41 966.5" stroke="#8c8c8c" stroke-width="1"/><path d="M640.55 926.4L640.55 997.3" stroke="#8c8c8c" stroke-width="1"/>
<text transform="translate(61.17 932.8) rotate(-90)" x="-0.6" y="0" font-size="8.7" text-anchor="end">12月末</text>
<text transform="translate(88.3 932.8) rotate(-90)" x="-0.6" y="0" font-size="8.7" text-anchor="end">1月末</text>
<text transform="translate(115.44 932.8) rotate(-90)" x="-0.6" y="0" font-size="8.7" text-anchor="end">2月末</text>
<text transform="translate(142.58 932.8) rotate(-90)" x="-0.6" y="0" font-size="8.7" text-anchor="end">3月末</text>
<text transform="translate(169.71 932.8) rotate(-90)" x="-0.6" y="0" font-size="8.7" text-anchor="end">4月末</text>
<text transform="translate(196.85 932.8) rotate(-90)" x="-0.6" y="0" font-size="8.7" text-anchor="end">5月末</text>
<text transform="translate(223.99 932.8) rotate(-90)" x="-0.6" y="0" font-size="8.7" text-anchor="end">6月末</text>
<text transform="translate(251.12 932.8) rotate(-90)" x="-0.6" y="0" font-size="8.7" text-anchor="end">7月末</text>
<text transform="translate(278.26 932.8) rotate(-90)" x="-0.6" y="0" font-size="8.7" text-anchor="end">8月末</text>
<text transform="translate(305.4 932.8) rotate(-90)" x="-0.6" y="0" font-size="8.7" text-anchor="end">9月末</text>
<text transform="translate(332.53 932.8) rotate(-90)" x="-0.6" y="0" font-size="8.7" text-anchor="end">10月末</text>
<text transform="translate(359.67 932.8) rotate(-90)" x="-0.6" y="0" font-size="8.7" text-anchor="end">11月末</text>
<text transform="translate(386.8 932.8) rotate(-90)" x="-0.6" y="0" font-size="8.7" text-anchor="end">12月末</text>
<text transform="translate(413.94 932.8) rotate(-90)" x="-0.6" y="0" font-size="8.7" text-anchor="end">1月2日</text>
<text transform="translate(441.08 932.8) rotate(-90)" x="-0.6" y="0" font-size="8.7" text-anchor="end">1月3日</text>
<text transform="translate(468.21 932.8) rotate(-90)" x="-0.6" y="0" font-size="8.7" text-anchor="end">1月4日</text>
<text transform="translate(495.35 932.8) rotate(-90)" x="-0.6" y="0" font-size="8.7" text-anchor="end">1月7日</text>
<text transform="translate(522.49 932.8) rotate(-90)" x="-0.6" y="0" font-size="8.7" text-anchor="end">1月8日</text>
<text transform="translate(549.62 932.8) rotate(-90)" x="-0.6" y="0" font-size="8.7" text-anchor="end">1月9日</text>
<text transform="translate(576.76 932.8) rotate(-90)" x="-0.6" y="0" font-size="8.7" text-anchor="end">1月10日</text>
<text transform="translate(603.9 932.8) rotate(-90)" x="-0.6" y="0" font-size="8.7" text-anchor="end">1月11日</text>
<text transform="translate(631.03 932.8) rotate(-90)" x="-0.6" y="0" font-size="8.7" text-anchor="end">1月14日</text>
<text x="57.07" y="982.1" font-size="8.7" text-anchor="middle">2017</text>
<text x="56.87" y="994.5" font-size="8.8" text-anchor="middle">年</text>
<text x="219.87" y="982.1" font-size="8.7">2018年</text>
<text x="504.81" y="982.1" font-size="8.7">2019年</text>
<polyline points="57.97,753.35 85.1,740.55 112.24,725.83 139.38,758.77 166.51,775.61 193.65,771.56 220.79,775.84 247.92,779.27 275.06,750.63 302.2,733.66 329.33,692.76 356.47,710.26 383.6,736.57 410.74,736.31 437.88,736.04 465.01,735.73 492.15,731.95 519.29,731.03 546.42,729.77 573.56,729.2 600.7,729.29 627.83,731.69" fill="none" stroke="#2458d2" stroke-width="2.2" stroke-linejoin="round" stroke-linecap="round"/><path d="M57.97 749.85l3.5 3.5l-3.5 3.5l-3.5 -3.5z" fill="#2f8fd6"/><path d="M85.1 737.05l3.5 3.5l-3.5 3.5l-3.5 -3.5z" fill="#2f8fd6"/><path d="M112.24 722.33l3.5 3.5l-3.5 3.5l-3.5 -3.5z" fill="#2f8fd6"/><path d="M139.38 755.27l3.5 3.5l-3.5 3.5l-3.5 -3.5z" fill="#2f8fd6"/><path d="M166.51 772.11l3.5 3.5l-3.5 3.5l-3.5 -3.5z" fill="#2f8fd6"/><path d="M193.65 768.06l3.5 3.5l-3.5 3.5l-3.5 -3.5z" fill="#2f8fd6"/><path d="M220.79 772.34l3.5 3.5l-3.5 3.5l-3.5 -3.5z" fill="#2f8fd6"/><path d="M247.92 775.77l3.5 3.5l-3.5 3.5l-3.5 -3.5z" fill="#2f8fd6"/><path d="M275.06 747.13l3.5 3.5l-3.5 3.5l-3.5 -3.5z" fill="#2f8fd6"/><path d="M302.2 730.16l3.5 3.5l-3.5 3.5l-3.5 -3.5z" fill="#2f8fd6"/><path d="M329.33 689.26l3.5 3.5l-3.5 3.5l-3.5 -3.5z" fill="#2f8fd6"/><path d="M356.47 706.76l3.5 3.5l-3.5 3.5l-3.5 -3.5z" fill="#2f8fd6"/><path d="M383.6 733.07l3.5 3.5l-3.5 3.5l-3.5 -3.5z" fill="#2f8fd6"/><path d="M410.74 732.81l3.5 3.5l-3.5 3.5l-3.5 -3.5z" fill="#2f8fd6"/><path d="M437.88 732.54l3.5 3.5l-3.5 3.5l-3.5 -3.5z" fill="#2f8fd6"/><path d="M465.01 732.23l3.5 3.5l-3.5 3.5l-3.5 -3.5z" fill="#2f8fd6"/><path d="M492.15 728.45l3.5 3.5l-3.5 3.5l-3.5 -3.5z" fill="#2f8fd6"/><path d="M519.29 727.53l3.5 3.5l-3.5 3.5l-3.5 -3.5z" fill="#2f8fd6"/><path d="M546.42 726.27l3.5 3.5l-3.5 3.5l-3.5 -3.5z" fill="#2f8fd6"/><path d="M573.56 725.7l3.5 3.5l-3.5 3.5l-3.5 -3.5z" fill="#2f8fd6"/><path d="M600.7 725.79l3.5 3.5l-3.5 3.5l-3.5 -3.5z" fill="#2f8fd6"/><path d="M627.83 728.19l3.5 3.5l-3.5 3.5l-3.5 -3.5z" fill="#2f8fd6"/>
<polyline points="57.97,790.36 85.1,799.92 112.24,767.71 139.38,880.11 166.51,863.99 193.65,870.15 220.79,875.43 247.92,845.49 275.06,847.86 302.2,828.72 329.33,758.54 356.47,788.47 383.6,759.68 410.74,759.03 437.88,750.69 465.01,737.92 492.15,734.38 519.29,731.68 546.42,731.35 573.56,734.24 600.7,733.31 627.83,732.03" fill="none" stroke="#d52b23" stroke-width="2.2" stroke-linejoin="round" stroke-linecap="round"/><rect x="55.07" y="787.46" width="5.8" height="5.8" fill="#e0702c" stroke="#d52b23" stroke-width="1"/><rect x="82.2" y="797.02" width="5.8" height="5.8" fill="#e0702c" stroke="#d52b23" stroke-width="1"/><rect x="109.34" y="764.81" width="5.8" height="5.8" fill="#e0702c" stroke="#d52b23" stroke-width="1"/><rect x="136.48" y="877.21" width="5.8" height="5.8" fill="#e0702c" stroke="#d52b23" stroke-width="1"/><rect x="163.61" y="861.09" width="5.8" height="5.8" fill="#e0702c" stroke="#d52b23" stroke-width="1"/><rect x="190.75" y="867.25" width="5.8" height="5.8" fill="#e0702c" stroke="#d52b23" stroke-width="1"/><rect x="217.89" y="872.53" width="5.8" height="5.8" fill="#e0702c" stroke="#d52b23" stroke-width="1"/><rect x="245.02" y="842.59" width="5.8" height="5.8" fill="#e0702c" stroke="#d52b23" stroke-width="1"/><rect x="272.16" y="844.96" width="5.8" height="5.8" fill="#e0702c" stroke="#d52b23" stroke-width="1"/><rect x="299.3" y="825.82" width="5.8" height="5.8" fill="#e0702c" stroke="#d52b23" stroke-width="1"/><rect x="326.43" y="755.64" width="5.8" height="5.8" fill="#e0702c" stroke="#d52b23" stroke-width="1"/><rect x="353.57" y="785.57" width="5.8" height="5.8" fill="#e0702c" stroke="#d52b23" stroke-width="1"/><rect x="380.7" y="756.78" width="5.8" height="5.8" fill="#e0702c" stroke="#d52b23" stroke-width="1"/><rect x="407.84" y="756.13" width="5.8" height="5.8" fill="#e0702c" stroke="#d52b23" stroke-width="1"/><rect x="434.98" y="747.79" width="5.8" height="5.8" fill="#e0702c" stroke="#d52b23" stroke-width="1"/><rect x="462.11" y="735.02" width="5.8" height="5.8" fill="#e0702c" stroke="#d52b23" stroke-width="1"/><rect x="489.25" y="731.48" width="5.8" height="5.8" fill="#e0702c" stroke="#d52b23" stroke-width="1"/><rect x="516.39" y="728.78" width="5.8" height="5.8" fill="#e0702c" stroke="#d52b23" stroke-width="1"/><rect x="543.52" y="728.45" width="5.8" height="5.8" fill="#e0702c" stroke="#d52b23" stroke-width="1"/><rect x="570.66" y="731.34" width="5.8" height="5.8" fill="#e0702c" stroke="#d52b23" stroke-width="1"/><rect x="597.8" y="730.41" width="5.8" height="5.8" fill="#e0702c" stroke="#d52b23" stroke-width="1"/><rect x="624.93" y="729.13" width="5.8" height="5.8" fill="#e0702c" stroke="#d52b23" stroke-width="1"/>
<text x="110.1" y="717.7" font-size="8.7" text-anchor="middle">625.54</text>
<text x="57.9" y="763.7" font-size="8.7" text-anchor="middle">601.53</text>
<text x="63.6" y="801.4" font-size="8.7" text-anchor="middle">569.23</text>
<text x="106.9" y="802.6" font-size="8.7" text-anchor="middle">560.89</text>
<text x="254.5" y="802.8" font-size="8.7" text-anchor="middle">578.91</text>
<text x="165.7" y="856" font-size="8.7" text-anchor="middle">504.98</text>
<text x="208.8" y="856.7" font-size="8.7" text-anchor="middle">499.61</text>
<text x="160.5" y="883.3" font-size="8.7" text-anchor="middle">490.92</text>
<text x="267.5" y="835.1" font-size="8.7" text-anchor="middle">519.06</text>
<text x="201.4" y="764.9" font-size="8.7" text-anchor="middle">585.64</text>
<text x="301.1" y="728.4" font-size="8.7" text-anchor="middle">618.71</text>
<text x="352.8" y="698.2" font-size="8.7" text-anchor="middle">639.13</text>
<text x="392.6" y="728.9" font-size="8.7" text-anchor="middle">616.17</text>
<text x="439" y="729.7" font-size="8.7" text-anchor="middle">616.63</text>
<text x="349.8" y="759.9" font-size="8.7" text-anchor="middle">570.88</text>
<text x="422.2" y="772.7" font-size="8.7" text-anchor="middle">596.57</text>
<text x="452" y="762.2" font-size="8.7" text-anchor="middle">603.85</text>
<text x="466.5" y="748.9" font-size="8.7" text-anchor="middle">614.99</text>
<text x="505.4" y="727.9" font-size="8.7" text-anchor="middle">620.44</text>
<text x="525.4" y="743.7" font-size="8.7" text-anchor="middle">620.72</text>
<text x="578.8" y="719.8" font-size="8.7" text-anchor="middle">622.52</text>
<text x="619.5" y="723.9" font-size="8.7" text-anchor="middle">620.43</text>
<text x="613.3" y="751.6" font-size="8.7" text-anchor="middle">620.13</text>
<text x="312.9" y="846.2" font-size="8.7" text-anchor="middle">535.76</text>
<path d="M186.5 660.8L206 660.8" stroke="#2458d2" stroke-width="2.2"/>
<path d="M196.2 657.7l2.4 3.1l-2.4 3.1l-2.4 -3.1z" fill="#2f8fd6"/>
<text x="207.3" y="663.1" font-size="9.3">国产铁矿石价格</text>
<path d="M305 660.8L324.5 660.8" stroke="#d52b23" stroke-width="2.2"/>
<rect x="312.1" y="658.2" width="5.2" height="5.2" fill="#e0702c" stroke="#d52b23" stroke-width="1"/>
<text x="326.4" y="663.1" font-size="9.3">进口铁矿石现货贸易人民币价格</text>
</svg>
</body></html>
